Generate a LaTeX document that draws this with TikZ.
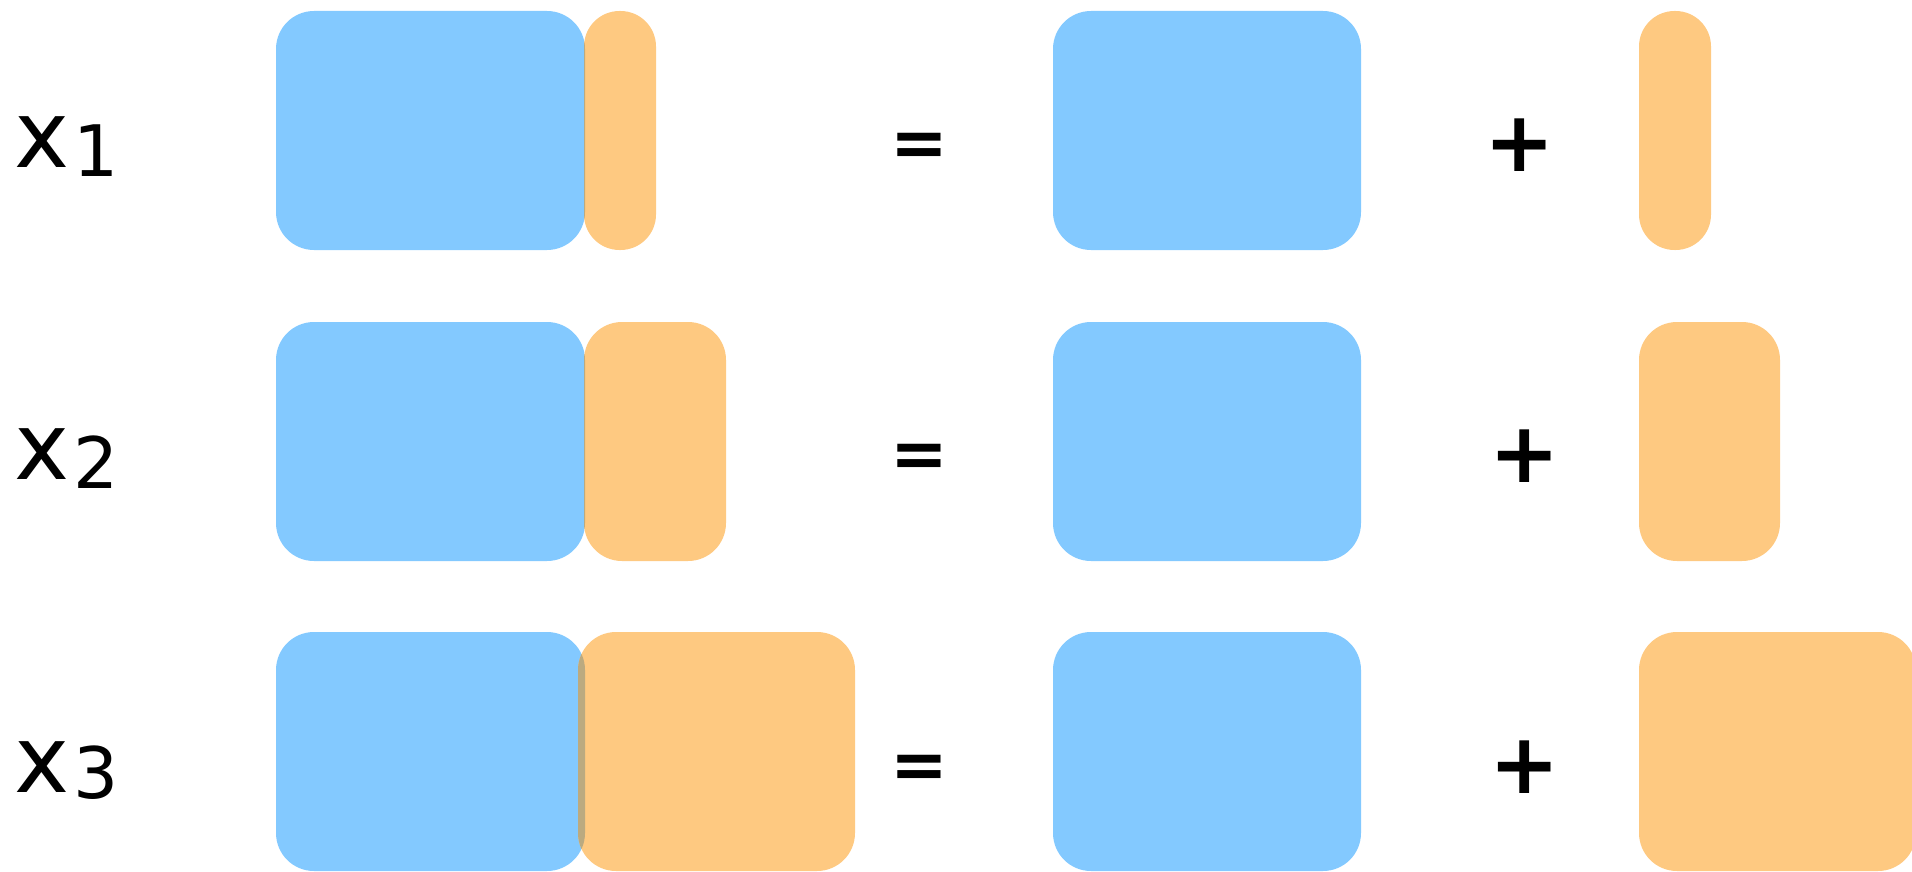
\documentclass[tikz,border=0pt]{standalone}
\usepackage{fontspec}
\setmainfont{DejaVu Sans}
\definecolor{bblue}{RGB}{131,201,255}
\definecolor{borange}{RGB}{254,201,129}
\definecolor{bmix}{RGB}{187,170,128}
\tikzset{
  bluefill/.style={fill=bblue},
  orangefill/.style={fill=borange},
  mixfill/.style={fill=bmix},
  rc/.style={rounded corners=38pt},
  pillrc/.style={rounded corners=35.5pt},
  mainlbl/.style={inner sep=0pt, anchor=south west, font=\fontsize{93}{100}\selectfont},
  sublbl/.style={inner sep=0pt, anchor=south west, font=\fontsize{71}{80}\selectfont},
  eqsym/.style={inner sep=0pt, anchor=center, font=\fontsize{69}{80}\selectfont\bfseries},
  plsym/.style={inner sep=0pt, anchor=center, font=\fontsize{84}{90}\selectfont\bfseries},
}
\begin{document}
\begin{tikzpicture}[x=1pt,y=-1pt]
\useasboundingbox (0,0) rectangle (1912,872);
% ---------- row 1 ----------
\fill[bluefill,rc] (276,11) rectangle (585,250);
\fill[orangefill,pillrc] (584,11) rectangle (656,250);
\begin{scope}
  \clip[rc] (276,11) rectangle (585,250);
  \fill[mixfill,pillrc] (584,11) rectangle (656,250);
\end{scope}
\fill[bluefill,rc] (1053,11) rectangle (1361,250);
\fill[orangefill,pillrc] (1639,11) rectangle (1711,250);
% ---------- row 2 ----------
\fill[bluefill,rc] (276,322) rectangle (585,561);
\fill[orangefill,rc] (584,322) rectangle (726,561);
\begin{scope}
  \clip[rc] (276,322) rectangle (585,561);
  \fill[mixfill,rc] (584,322) rectangle (726,561);
\end{scope}
\fill[bluefill,rc] (1053,322) rectangle (1361,561);
\fill[orangefill,rc] (1639,322) rectangle (1780,561);
% ---------- row 3 ----------
\fill[bluefill,rc] (276,632) rectangle (585,871);
\fill[orangefill,rc] (578,632) rectangle (855,871);
\begin{scope}
  \clip[rc] (276,632) rectangle (585,871);
  \fill[mixfill,rc] (578,632) rectangle (855,871);
\end{scope}
\fill[bluefill,rc] (1053,632) rectangle (1361,871);
\fill[orangefill,rc] (1639,632) rectangle (1916,871);
% ---------- labels ----------
\node[mainlbl] (x1) at (14,168) {x};
\node[sublbl] (s1) at (73,177) {1};
\node[mainlbl] (x2) at (14,480) {x};
\node[sublbl] (s2) at (73,489) {2};
\node[mainlbl] (x3) at (14,793) {x};
\node[sublbl] (s3) at (73,800) {3};
% ---------- operators ----------
\node[eqsym] (eq1) at (919,150) {=};
\node[eqsym] (eq2) at (919,461) {=};
\node[eqsym] (eq3) at (919,771.5) {=};
\node[plsym] (pl1) at (1520,145) {+};
\node[plsym] (pl2) at (1525,456) {+};
\node[plsym] (pl3) at (1525,767) {+};
\end{tikzpicture}
\end{document}
